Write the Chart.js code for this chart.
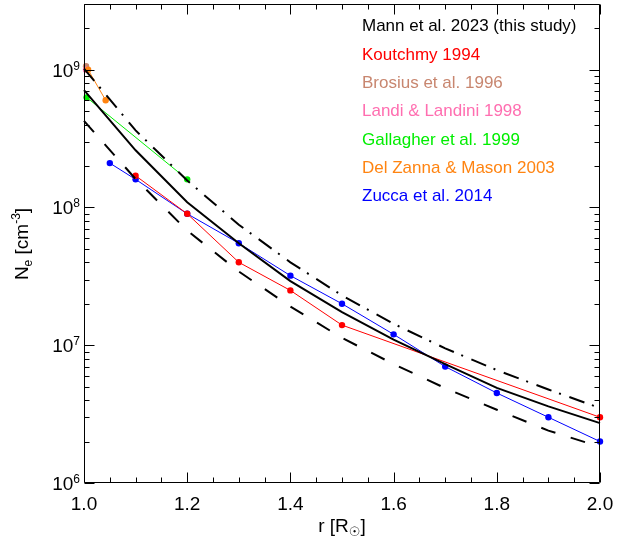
<!DOCTYPE html>
<html>
<head>
<meta charset="utf-8">
<script src="https://cdn.jsdelivr.net/npm/chart.js@4/dist/chart.umd.min.js"></script>
<style>
  html, body { margin: 0; padding: 0; background: #ffffff; }
  canvas { display: block; }
</style>
</head>
<body>
<canvas id="chart" width="636" height="541" style="width:636px;height:541px"></canvas>
<script>
// Radial grid (solar radii) on which the model densities are evaluated
const radius = [1.0, 1.1, 1.2, 1.3, 1.4, 1.5, 1.6, 1.7, 1.8, 1.9, 2.0];
// Mann et al. 2023 model: nominal, lower and upper curves (cm^-3)
const mannNe     = [7.1e8, 2.6e8, 1.09e8, 5.5e7, 2.92e7, 1.74e7, 1.10e7, 7.3e6, 4.9e6, 3.6e6, 2.72e6];
const mannNeLow  = [4.25e8, 1.61e8, 6.8e7, 3.43e7, 1.91e7, 1.13e7, 7.3e6, 4.88e6, 3.4e6, 2.4e6, 1.83e6];
const mannNeHigh = [1.02e9, 3.63e8, 1.57e8, 7.5e7, 4.0e7, 2.3e7, 1.43e7, 9.5e6, 6.6e6, 4.77e6, 3.5e6];

// Observational electron densities
const koutchmyR   = [1.1, 1.2, 1.3, 1.4, 1.5, 2.0];
const koutchmyNe  = [1.7e8, 9.0e7, 4.0e7, 2.5e7, 1.4e7, 3.0e6];
const brosiusR    = [1.004];
const brosiusNe   = [1.06e9];
const landiR      = [1.004];
const landiNe     = [1.0e9];
const gallagherR  = [1.005, 1.2];
const gallagherNe = [6.3e8, 1.6e8];
const delZannaR   = [1.008, 1.042];
const delZannaNe  = [1.0e9, 6.0e8];
const zuccaR      = [1.05, 1.1, 1.2, 1.3, 1.4, 1.5, 1.6, 1.7, 1.8, 1.9, 2.0];
const zuccaNe     = [2.1e8, 1.6e8, 9.0e7, 5.5e7, 3.2e7, 2.0e7, 1.2e7, 7.0e6, 4.5e6, 3.0e6, 2.0e6];

// Legend
const legendLabels = [
  'Mann et al. 2023 (this study)',
  'Koutchmy 1994',
  'Brosius et al. 1996',
  'Landi & Landini 1998',
  'Gallagher et al. 1999',
  'Del Zanna & Mason 2003',
  'Zucca et al. 2014'
];
const legendColors = ['#000000', '#ff0000', '#c8866f', '#ff6eb0', '#00ee00', '#ff8411', '#0000ff'];

// Axis tick labels
const xTickValues = [1.0, 1.2, 1.4, 1.6, 1.8, 2.0];
const xTickLabels = ['1.0', '1.2', '1.4', '1.6', '1.8', '2.0'];
const yTickValues = [1e6, 1e7, 1e8, 1e9];
const yTickExponents = ['6', '7', '8', '9'];

const FONT = "'Liberation Sans', Arial, 'DejaVu Sans', sans-serif";

function pts(xs, ys) { return xs.map((x, i) => ({ x: x, y: ys[i] })); }

function modelSet(ys, dash) {
  return {
    data: pts(radius, ys), showLine: true, borderColor: '#000', backgroundColor: '#000',
    borderWidth: 2, borderDash: dash, pointRadius: 0, tension: 0, clip: false,
    borderCapStyle: 'butt'
  };
}
function obsSet(xs, ys, color) {
  return {
    data: pts(xs, ys), showLine: true, borderColor: color, backgroundColor: color,
    borderWidth: 1, pointRadius: 3.2, pointBorderWidth: 0, pointBackgroundColor: color,
    tension: 0, clip: false
  };
}

// Draws a run of text pieces (with sub/superscripts) on one baseline
function richWidth(ctx, parts) {
  let w = 0;
  for (const p of parts) { ctx.font = p.size + 'px ' + FONT; w += ctx.measureText(p.text).width; }
  return w;
}
function drawRich(ctx, parts, x, y, align) {
  const w = richWidth(ctx, parts);
  let cx = align === 'center' ? x - w / 2 : (align === 'right' ? x - w : x);
  ctx.textAlign = 'left';
  ctx.textBaseline = 'alphabetic';
  for (const p of parts) {
    ctx.font = p.size + 'px ' + FONT;
    ctx.fillText(p.text, cx, y + (p.dy || 0));
    cx += ctx.measureText(p.text).width;
  }
}

// Box frame with inward ticks, tick labels, axis titles and text legend
const framePlugin = {
  id: 'frame',
  afterDraw(chart) {
    const ctx = chart.ctx;
    const xs = chart.scales.x, ys = chart.scales.y;
    const a = chart.chartArea;
    const L = Math.round(a.left) + 0.5, R = Math.round(a.right) - 0.5;
    const T = Math.round(a.top) + 0.5, B = Math.round(a.bottom) - 0.5;
    ctx.save();
    ctx.strokeStyle = '#000';
    ctx.lineWidth = 1;
    ctx.beginPath();
    ctx.rect(L, T, R - L, B - T);
    // x ticks every 0.05, major every 0.2
    for (let i = 0; i <= 20; i++) {
      const v = 1 + i * 0.05;
      const px = Math.round(xs.getPixelForValue(v)) + 0.5;
      const len = (i % 4 === 0) ? 10 : 5;
      ctx.moveTo(px, B); ctx.lineTo(px, B - len);
      ctx.moveTo(px, T); ctx.lineTo(px, T + len);
    }
    // y ticks: decades major, 2..9 minor
    for (let d = 6; d <= 9; d++) {
      for (let m = 1; m <= 9; m++) {
        const v = m * Math.pow(10, d);
        if (v > ys.max * 1.0001) continue;
        const py = Math.round(ys.getPixelForValue(v)) + 0.5;
        const len = (m === 1) ? 10 : 5;
        ctx.moveTo(L, py); ctx.lineTo(L + len, py);
        ctx.moveTo(R, py); ctx.lineTo(R - len, py);
      }
    }
    ctx.stroke();

    ctx.fillStyle = '#000';
    // x tick labels
    ctx.font = '19px ' + FONT;
    ctx.textAlign = 'center';
    ctx.textBaseline = 'alphabetic';
    xTickValues.forEach((v, i) => {
      ctx.fillText(xTickLabels[i], xs.getPixelForValue(v), 510);
    });
    // y tick labels as powers of ten
    yTickValues.forEach((v, i) => {
      const py = ys.getPixelForValue(v);
      drawRich(ctx, [
        { text: '10', size: 19, dy: 0 },
        { text: yTickExponents[i], size: 12, dy: -6.8 }
      ], 80, py + 6.8, 'right');
    });
    // x axis title
    drawRich(ctx, [
      { text: 'r [R', size: 19 },
      { text: '\u2609', size: 13, dy: 4 },
      { text: ']', size: 19 }
    ], (a.left + a.right) / 2, 532, 'center');
    // y axis title (rotated)
    ctx.save();
    ctx.translate(28, 244);
    ctx.rotate(-Math.PI / 2);
    drawRich(ctx, [
      { text: 'N', size: 19 },
      { text: 'e', size: 12, dy: 4 },
      { text: ' [cm', size: 19 },
      { text: '-3', size: 12, dy: -8 },
      { text: ']', size: 19 }
    ], 0, 0, 'center');
    ctx.restore();
    // legend
    ctx.font = '17px ' + FONT;
    ctx.textAlign = 'left';
    legendLabels.forEach((t, i) => {
      ctx.fillStyle = legendColors[i];
      ctx.fillText(t, 362, 31.2 + i * 28.35);
    });
    ctx.restore();
  }
};

new Chart(document.getElementById('chart'), {
  type: 'scatter',
  data: {
    datasets: [
      modelSet(mannNeLow, [15, 16]),
      modelSet(mannNeHigh, [16, 8, 2, 9]),
      modelSet(mannNe, []),
      obsSet(gallagherR, gallagherNe, legendColors[4]),
      obsSet(koutchmyR, koutchmyNe, legendColors[1]),
      obsSet(zuccaR, zuccaNe, legendColors[6]),
      obsSet(delZannaR, delZannaNe, legendColors[5]),
      obsSet(landiR, landiNe, legendColors[3]),
      obsSet(brosiusR, brosiusNe, legendColors[2])
    ]
  },
  options: {
    responsive: false,
    animation: false,
    devicePixelRatio: 1,
    layout: { padding: { left: 84, right: 36, top: 4, bottom: 58 } },
    scales: {
      x: { type: 'linear', min: 1.0, max: 2.0, display: false },
      y: { type: 'logarithmic', min: 1e6, max: 3e9, display: false }
    },
    plugins: { legend: { display: false }, tooltip: { enabled: false } },
    events: []
  },
  plugins: [framePlugin]
});
</script>
</body>
</html>
